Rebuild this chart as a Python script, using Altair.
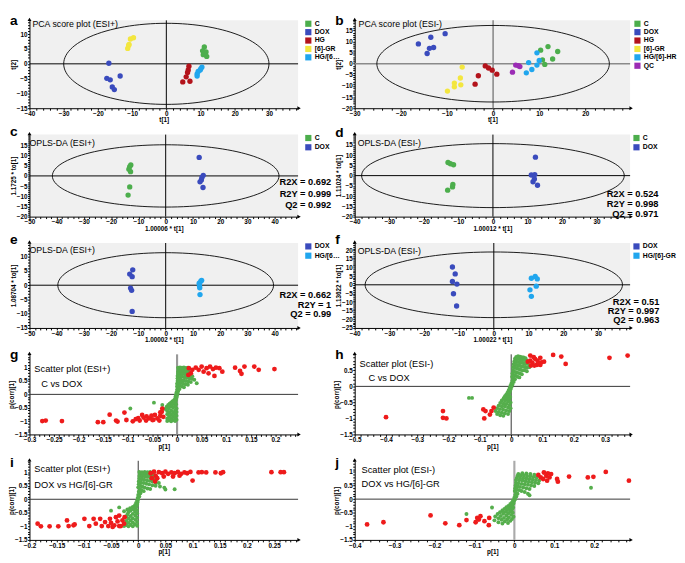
import altair as alt
import pandas as pd

FONT = "Liberation Sans"

# ---------------- colours ----------------
COL_C = "#4cae4c"
COL_DOX = "#3a4bbd"
COL_HG = "#b3131b"
COL_GR = "#f3e63f"
COL_HR = "#20a6ee"
COL_QC = "#9b2cb5"
S_GREEN = "#55ae4c"
S_RED = "#ee1b1b"
BG = "#f0f0f0"

# ---------------- panel a : PCA ESI+ ----------------
A_C = [(11.1, 5.7), (10.6, 4.4), (11.6, 4.0), (10.8, 3.1), (11.8, 2.5), (11.0, 3.4)]
A_DOX = [(-16.8, 0.2), (-17.4, -4.9), (-16.4, -5.4), (-13.5, -4.1), (-15.8, -7.8), (-15.2, -8.7)]
A_HG = [(6.6, -0.8), (6.4, -2.1), (6.2, -2.9), (5.8, -4.4), (4.8, -6.1), (6.9, -5.9)]
A_GR = [(-9.6, 8.8), (-10.5, 8.4), (-10.9, 6.6), (-11.3, 5.2), (-11.0, 6.2)]
A_HR = [(10.4, -1.1), (10.1, -1.6), (9.9, -2.1), (9.3, -2.6), (9.0, -3.4), (9.0, -4.1)]
A_XT = [-40, -30, -20, -10, 0, 10, 20, 30]
A_YT = [-15, -10, -5, 0, 5, 10]

# ---------------- panel b : PCA ESI- ----------------
B_C = [(10.3, 6.1), (11.9, 7.7), (14.0, 5.5), (12.9, 2.1), (10.7, 1.7), (11.2, -0.3)]
B_DOX = [(-16.2, 8.9), (-13.5, 11.9), (-10.4, 13.5), (-13.8, 6.9), (-12.9, 7.3), (-14.3, 4.6)]
B_HG = [(-1.7, -1.0), (-1.0, -1.9), (-0.2, -2.9), (0.8, -4.7), (-3.2, -5.4), (-3.9, -9.2)]
B_GR = [(-6.7, -1.5), (-7.1, -6.4), (-7.0, -9.5), (-8.4, -8.7), (-8.4, -10.4), (-9.9, -12.3)]
B_HR = [(9.5, 4.9), (7.7, 0.5), (10.0, 1.5), (9.5, -0.6), (8.4, -2.6), (7.2, -4.1)]
B_QC = [(4.2, -3.8), (4.9, -0.6), (5.5, -0.9), (5.8, -1.3)]
B_XT = [-30, -20, -10, 0, 10, 20]
B_YT = [-20, -15, -10, -5, 0, 5, 10, 15]

# ---------------- panel c : OPLS-DA ESI+ C vs DOX ----------------
C_C = [(-12.8, 5.4), (-13.2, 4.6), (-13.5, 3.3), (-12.9, 2.1), (-13.2, -5.4), (-13.8, -9.4)]
C_DOX = [(12.3, 9.1), (13.8, 0.3), (13.3, -0.8), (13.1, -2.0), (12.6, -2.9), (13.7, -5.7)]
C_STATS = ["R2X = 0.692", "R2Y = 0.999", "Q2 = 0.992"]
C_XT = [-50, -40, -30, -20, -10, 0, 10, 20, 30, 40]
C_YT = [-20, -15, -10, -5, 0, 5, 10, 15]

# ---------------- panel d : OPLS-DA ESI- C vs DOX ----------------
D_C = [(-13.0, 6.4), (-12.3, 5.8), (-11.4, 5.3), (-11.6, -4.3), (-11.7, -5.5), (-13.1, -7.1)]
D_DOX = [(12.3, 9.0), (11.1, 0.3), (12.1, 0.5), (12.0, -1.6), (11.6, -3.0), (12.9, -4.7)]
D_STATS = ["R2X = 0.524", "R2Y = 0.998", "Q2 = 0.971"]
D_XT = [-40, -30, -20, -10, 0, 10, 20, 30]
D_YT = [-20, -15, -10, -5, 0, 5, 10, 15]

# ---------------- panel e : OPLS-DA ESI+ DOX vs HG/[6]-GR ----------------
E_DOX = [(-12.1, 5.4), (-13.2, 3.9), (-12.3, 3.0), (-12.9, -1.0), (-12.5, -1.8), (-12.3, -9.2)]
E_HGR = [(12.9, 1.4), (12.3, 0.7), (12.4, -0.2), (12.5, -0.9), (12.6, -3.3), (13.2, 1.7)]
E_STATS = ["R2X = 0.662", "R2Y = 1", "Q2 = 0.99"]
E_XT = [-50, -40, -30, -20, -10, 0, 10, 20, 30, 40]
E_YT = [-15, -10, -5, 0, 5, 10]

# ---------------- panel f : OPLS-DA ESI- DOX vs HG/[6]-GR ----------------
F_DOX = [(-11.9, 10.3), (-11.1, 6.3), (-11.9, 1.9), (-10.6, 0.4), (-11.6, -5.2), (-10.7, -12.3)]
F_HGR = [(10.8, 3.8), (11.9, 4.8), (12.5, 3.4), (12.2, -0.8), (10.4, -2.9), (10.8, -6.7)]
F_STATS = ["R2X = 0.51", "R2Y = 0.997", "Q2 = 0.963"]
F_XT = [-40, -30, -20, -10, 0, 10, 20, 30]
F_YT = [-25, -20, -15, -10, -5, 0, 5, 10, 15, 20]

# ---------------- panel g : S-plot ESI+ C vs DOX ----------------
G_GREEN = [
    (0.002, 1.0), (0.006, 1.01), (0.010, 1.0), (0.014, 1.01), (0.018, 0.99), (0.022, 1.0),
    (0.003, 0.93), (0.008, 0.94), (0.013, 0.93), (0.018, 0.92), (0.023, 0.9),
    (0.002, 0.86), (0.007, 0.85), (0.012, 0.86), (0.017, 0.84), (0.022, 0.83), (0.027, 0.8),
    (0.002, 0.78), (0.006, 0.76), (0.011, 0.77), (0.016, 0.75), (0.021, 0.72), (0.026, 0.7), (0.031, 0.68),
    (0.001, 0.69), (0.005, 0.66), (0.010, 0.67), (0.015, 0.64), (0.020, 0.62), (0.025, 0.6), (0.030, 0.58), (0.035, 0.55),
    (0.001, 0.6), (0.004, 0.56), (0.008, 0.55), (0.013, 0.52), (0.018, 0.5), (0.023, 0.48), (0.028, 0.46), (0.040, 0.42),
    (0.001, 0.5), (0.004, 0.46), (0.008, 0.44), (0.012, 0.41), (0.017, 0.38), (0.022, 0.36),
    (0.0, 0.4), (0.003, 0.36), (0.006, 0.33), (0.010, 0.3), (0.014, 0.27),
    (0.0, 0.3), (0.002, 0.24), (0.005, 0.2), (0.0, 0.18), (0.002, 0.12), (-0.001, 0.08), (0.001, 0.04),
    (-0.002, 0.0), (0.0, -0.04), (-0.003, -0.08), (-0.001, -0.12), (-0.004, -0.16),
    (-0.002, -0.2), (-0.006, -0.22), (-0.009, -0.26), (-0.003, -0.28), (-0.012, -0.3), (-0.006, -0.33),
    (-0.015, -0.35), (-0.002, -0.37), (-0.010, -0.39), (-0.018, -0.4),
    (-0.004, -0.44), (-0.013, -0.45), (-0.021, -0.46), (-0.008, -0.5), (-0.017, -0.52), (-0.001, -0.53), (-0.024, -0.55),
    (-0.004, -0.6), (-0.012, -0.6), (-0.020, -0.62), (-0.001, -0.66), (-0.008, -0.68), (-0.016, -0.68),
    (-0.004, -0.74), (-0.012, -0.75), (-0.020, -0.74), (-0.001, -0.8), (-0.008, -0.82), (-0.016, -0.82),
    (-0.004, -0.88), (-0.012, -0.89), (-0.020, -0.9), (-0.001, -0.95), (-0.008, -0.96), (-0.016, -0.97),
    (-0.004, -1.0), (-0.012, -1.01), (-0.020, -1.0),
    (-0.047, -0.31), (-0.095, -0.53), (-0.030, -0.4),
]
G_RED = [
    (0.024, 0.98), (0.023, 0.73), (0.028, 0.79), (0.031, 0.92), (0.038, 1.0), (0.044, 0.92),
    (0.050, 1.04), (0.054, 0.85), (0.060, 0.98), (0.067, 1.04), (0.064, 0.79), (0.073, 0.95),
    (0.076, 0.69), (0.079, 1.0), (0.086, 0.98), (0.092, 0.85), (0.118, 1.0), (0.128, 0.88),
    (0.131, 0.77), (0.137, 1.04), (0.157, 1.04), (0.166, 0.92), (0.198, 0.95),
    (-0.274, -1.0), (-0.267, -0.98), (-0.234, -1.0), (-0.161, -1.04), (-0.150, -1.04),
    (-0.137, -0.76), (-0.124, -0.98), (-0.121, -1.02), (-0.107, -0.68), (-0.103, -0.96),
    (-0.090, -1.01), (-0.084, -0.93), (-0.079, -0.89), (-0.071, -0.77), (-0.068, -0.87),
    (-0.062, -0.82), (-0.057, -0.9), (-0.052, -0.8), (-0.048, -0.95), (-0.045, -0.77),
    (-0.040, -0.9), (-0.036, -0.98), (-0.034, -0.8), (-0.031, -0.65), (-0.028, -0.84),
    (-0.030, -0.53), (-0.034, -0.67), (-0.076, -0.98), (-0.063, -0.98), (-0.050, -0.96),
]
G_XT = [-0.3, -0.25, -0.2, -0.15, -0.1, -0.05, 0, 0.05, 0.1, 0.15, 0.2]
G_YT = [-1.5, -1, -0.5, 0, 0.5, 1]

# ---------------- panel h : S-plot ESI- C vs DOX ----------------
H_GREEN = [
    (0.016, 0.92), (0.022, 0.94), (0.028, 0.93), (0.034, 0.91), (0.040, 0.9), (0.046, 0.88),
    (0.012, 0.86), (0.018, 0.85), (0.024, 0.86), (0.030, 0.84), (0.036, 0.83), (0.042, 0.82), (0.050, 0.8),
    (0.010, 0.78), (0.016, 0.77), (0.022, 0.76), (0.028, 0.75), (0.034, 0.74), (0.040, 0.72), (0.046, 0.7), (0.054, 0.7),
    (0.008, 0.69), (0.014, 0.68), (0.020, 0.66), (0.026, 0.65), (0.032, 0.63), (0.038, 0.62), (0.044, 0.6), (0.050, 0.58), (0.058, 0.6),
    (0.006, 0.6), (0.012, 0.58), (0.018, 0.56), (0.024, 0.54), (0.030, 0.52), (0.036, 0.5), (0.042, 0.5), (0.050, 0.47),
    (0.006, 0.5), (0.010, 0.46), (0.016, 0.44), (0.022, 0.42), (0.028, 0.4), (0.034, 0.38),
    (0.004, 0.4), (0.008, 0.36), (0.014, 0.33), (0.020, 0.3), (0.026, 0.28),
    (0.003, 0.3), (0.007, 0.25), (0.012, 0.22), (0.004, 0.18), (0.008, 0.14), (0.001, 0.1), (0.004, 0.06),
    (-0.002, 0.02), (0.001, -0.02), (-0.005, -0.05), (-0.002, -0.09), (-0.008, -0.12), (-0.004, -0.16),
    (-0.012, -0.2), (-0.006, -0.22), (-0.016, -0.26), (-0.008, -0.28), (-0.020, -0.31), (-0.012, -0.34),
    (-0.003, -0.33), (-0.024, -0.37), (-0.016, -0.4), (-0.006, -0.41), (-0.030, -0.44), (-0.020, -0.46),
    (-0.010, -0.47), (-0.002, -0.5), (-0.035, -0.52), (-0.025, -0.54), (-0.015, -0.55), (-0.005, -0.58),
    (-0.040, -0.6), (-0.030, -0.62), (-0.020, -0.63), (-0.010, -0.66), (-0.002, -0.68),
    (-0.045, -0.68), (-0.036, -0.71), (-0.026, -0.72), (-0.016, -0.75), (-0.006, -0.77),
    (-0.050, -0.77), (-0.040, -0.8), (-0.030, -0.82), (-0.020, -0.84), (-0.010, -0.86),
    (-0.045, -0.86), (-0.035, -0.9), (-0.025, -0.92), (-0.135, -0.36), (-0.125, -0.36),
]
H_RED = [
    (0.061, 0.96), (0.061, 0.8), (0.068, 0.73), (0.076, 0.86), (0.084, 0.8), (0.093, 0.89),
    (0.097, 0.75), (0.105, 0.77), (0.082, 0.67), (0.093, 0.67), (0.063, 0.65), (0.074, 0.65),
    (0.134, 0.98), (0.160, 0.93), (0.174, 0.7), (0.314, 0.89), (0.372, 0.96), (0.053, 0.77),
    (0.072, 0.91), (0.086, 0.73),
    (-0.400, -0.96), (-0.218, -0.77), (-0.218, -0.98), (-0.207, -1.0), (-0.089, -0.72),
    (-0.082, -0.77), (-0.086, -1.0), (-0.068, -0.88), (-0.063, -0.77), (-0.056, -0.66),
]
H_XT = [-0.5, -0.4, -0.3, -0.2, -0.1, 0, 0.1, 0.2, 0.3]
H_YT = [-1.5, -1, -0.5, 0, 0.5]

# ---------------- panel i : S-plot ESI+ DOX vs HG/[6]-GR ----------------
I_GREEN = [
    (0.002, 1.01), (0.007, 1.0), (0.012, 1.01), (0.017, 1.0), (0.022, 1.01),
    (0.003, 0.94), (0.008, 0.93), (0.013, 0.94), (0.018, 0.92), (0.023, 0.9), (0.028, 0.9),
    (0.002, 0.86), (0.007, 0.85), (0.012, 0.84), (0.017, 0.83), (0.022, 0.8), (0.028, 0.77), (0.034, 0.74),
    (0.002, 0.77), (0.006, 0.74), (0.011, 0.72), (0.016, 0.7), (0.021, 0.68), (0.026, 0.66), (0.032, 0.62), (0.038, 0.6),
    (0.001, 0.66), (0.005, 0.62), (0.010, 0.6), (0.015, 0.57), (0.020, 0.55), (0.026, 0.52), (0.032, 0.5), (0.040, 0.47), (0.048, 0.43),
    (0.001, 0.55), (0.004, 0.5), (0.008, 0.46), (0.012, 0.43), (0.017, 0.4), (0.022, 0.38), (0.050, 0.36), (0.067, 0.37),
    (0.0, 0.44), (0.003, 0.38), (0.006, 0.33), (0.010, 0.3), (0.001, 0.28), (0.004, 0.22), (0.0, 0.16),
    (0.002, 0.1), (-0.001, 0.05), (0.0, 0.0), (-0.002, -0.05), (-0.001, -0.1), (-0.004, -0.14), (-0.002, -0.19),
    (-0.006, -0.22), (-0.003, -0.26), (-0.010, -0.28), (-0.005, -0.32), (-0.015, -0.33), (-0.009, -0.37),
    (-0.020, -0.38), (-0.002, -0.4), (-0.014, -0.42), (-0.026, -0.44), (-0.006, -0.46), (-0.018, -0.48),
    (-0.035, -0.3), (-0.050, -0.42),
    (-0.002, -0.52), (-0.010, -0.54), (-0.020, -0.56), (-0.005, -0.6), (-0.014, -0.62), (-0.022, -0.63),
    (-0.002, -0.68), (-0.010, -0.7), (-0.018, -0.71), (-0.005, -0.76), (-0.014, -0.78), (-0.022, -0.8),
    (-0.002, -0.84), (-0.010, -0.86), (-0.018, -0.87), (-0.006, -0.92), (-0.014, -0.94), (-0.022, -0.95),
    (-0.002, -0.98), (-0.010, -1.0), (-0.018, -1.0), (-0.026, -0.99),
]
I_RED = [
    (0.023, 0.96), (0.025, 0.78), (0.029, 1.02), (0.032, 0.87), (0.038, 1.0), (0.044, 0.96),
    (0.050, 1.02), (0.055, 0.94), (0.061, 0.99), (0.067, 0.96), (0.073, 1.01), (0.079, 0.94),
    (0.085, 0.99), (0.090, 0.96), (0.096, 1.01), (0.100, 0.69), (0.111, 0.99), (0.117, 1.0),
    (0.125, 0.99), (0.142, 0.99), (0.152, 0.96), (0.156, 1.0), (0.245, 1.0), (0.262, 1.0),
    (0.268, 1.0), (0.035, 0.78), (0.047, 0.84), (0.064, 0.84), (0.076, 0.87), (0.031, 0.66),
    (-0.185, -0.9), (-0.179, -1.0), (-0.163, -1.0), (-0.147, -1.0), (-0.131, -0.78),
    (-0.128, -0.99), (-0.119, -0.96), (-0.117, -0.93), (-0.099, -0.72), (-0.090, -0.99),
    (-0.082, -0.72), (-0.078, -0.9), (-0.070, -0.72), (-0.067, -0.99), (-0.061, -0.84),
    (-0.055, -0.99), (-0.052, -0.72), (-0.050, -0.87), (-0.044, -0.96), (-0.041, -0.66),
    (-0.038, -0.82), (-0.035, -0.6), (-0.032, -0.99), (-0.029, -0.78), (-0.026, -0.9),
    (-0.025, -0.66), (-0.035, -0.99), (-0.047, -1.02),
]
I_XT = [-0.2, -0.15, -0.1, -0.05, 0, 0.05, 0.1, 0.15, 0.2, 0.25]
I_YT = [-1.5, -1, -0.5, 0, 0.5, 1]

# ---------------- panel j : S-plot ESI- DOX vs HG/[6]-GR ----------------
J_GREEN = [
    (0.010, 0.93), (0.020, 0.95), (0.030, 0.94), (0.040, 0.93), (0.050, 0.9),
    (0.008, 0.86), (0.016, 0.87), (0.024, 0.86), (0.032, 0.85), (0.040, 0.84), (0.048, 0.82), (0.056, 0.8),
    (0.006, 0.78), (0.014, 0.78), (0.022, 0.77), (0.030, 0.76), (0.038, 0.74), (0.046, 0.72), (0.054, 0.7), (0.062, 0.68),
    (0.004, 0.7), (0.012, 0.69), (0.020, 0.68), (0.028, 0.66), (0.036, 0.64), (0.044, 0.62), (0.052, 0.6), (0.060, 0.58),
    (0.004, 0.6), (0.010, 0.58), (0.018, 0.56), (0.026, 0.55), (0.034, 0.53), (0.042, 0.5), (0.050, 0.48),
    (0.003, 0.5), (0.008, 0.47), (0.014, 0.45), (0.022, 0.43), (0.030, 0.4), (0.038, 0.37),
    (0.002, 0.4), (0.006, 0.36), (0.012, 0.33), (0.018, 0.3), (0.026, 0.26), (0.034, 0.2), (0.038, 0.14),
    (0.001, 0.3), (0.004, 0.25), (0.008, 0.2), (0.002, 0.15), (0.005, 0.1), (0.0, 0.05), (0.002, 0.0),
    (-0.003, -0.04), (-0.001, -0.08), (-0.006, -0.12), (-0.002, -0.16),
    (-0.010, -0.18), (-0.005, -0.22), (-0.015, -0.25), (-0.008, -0.28), (-0.020, -0.3), (-0.003, -0.31),
    (-0.012, -0.34), (-0.025, -0.36), (-0.006, -0.38), (-0.018, -0.4), (-0.030, -0.42),
    (-0.010, -0.45), (-0.022, -0.47), (-0.036, -0.48), (-0.004, -0.5), (-0.015, -0.52), (-0.028, -0.54),
    (-0.042, -0.55), (-0.008, -0.58), (-0.020, -0.6), (-0.034, -0.62), (-0.048, -0.64),
    (-0.002, -0.65), (-0.014, -0.67), (-0.026, -0.69), (-0.040, -0.7), (-0.006, -0.73), (-0.018, -0.75),
    (-0.032, -0.76), (-0.050, -0.78), (-0.010, -0.8), (-0.024, -0.82), (-0.040, -0.85), (-0.016, -0.88),
    (-0.030, -0.9), (-0.056, -0.31), (-0.120, -0.55), (0.192, 0.42),
]
J_RED = [
    (0.074, 0.98), (0.084, 0.95), (0.092, 0.92), (0.066, 0.8), (0.072, 0.74), (0.082, 0.68),
    (0.088, 0.8), (0.107, 0.74), (0.109, 0.64), (0.137, 0.83), (0.184, 0.8), (0.198, 0.82),
    (0.229, 1.0), (0.287, 0.68), (0.060, 0.89), (0.080, 0.86),
    (-0.369, -0.93), (-0.328, -0.85), (-0.210, -0.6), (-0.173, -0.89), (-0.138, -0.96),
    (-0.120, -0.77), (-0.097, -0.85), (-0.093, -0.69), (-0.089, -0.75), (-0.075, -0.81),
    (-0.064, -0.96), (-0.063, -0.69), (-0.085, -0.63),
]
J_XT = [-0.4, -0.3, -0.2, -0.1, 0, 0.1, 0.2]
J_YT = [-1.5, -1, -0.5, 0, 0.5, 1]

# ---------------- layout constants ----------------
WL, WR = 275, 282
ROW_H = [90, 84, 87, 82, 81]


def minor_ticks(major, sub, dom):
    """Tick positions between labelled ticks (axis styling only)."""
    step = (major[1] - major[0]) / sub
    start = major[0]
    vals = []
    k = 0
    while start + k * step <= dom[1] + 1e-9:
        vals.append(round(start + k * step, 6))
        k += 1
    return vals


def to_df(groups):
    rows = []
    for name, pts in groups:
        for x, y in pts:
            rows.append({"x": x, "y": y, "g": name})
    return pd.DataFrame(rows)


def text_layer(text, x, y, size, weight="normal", align="left", line_height=None):
    props = dict(font=FONT, fontSize=size, fontWeight=weight, align=align,
                 baseline="alphabetic", color="black")
    if line_height is not None:
        props.update(lineBreak="\n", lineHeight=line_height)
    return alt.Chart(pd.DataFrame({"t": [text]})).mark_text(**props).encode(
        text="t:N", x=alt.value(x), y=alt.value(y))


def arrow_layers(W, H):
    one = pd.DataFrame({"k": [0]})
    ax = alt.Chart(one).mark_point(shape="triangle-right", filled=True, size=16,
                                   color="black", opacity=1).encode(
        x=alt.value(W + 1), y=alt.value(H))
    ay = alt.Chart(one).mark_point(shape="triangle-up", filled=True, size=16,
                                   color="black", opacity=1).encode(
        x=alt.value(0), y=alt.value(-1))
    return [ax, ay]


def axes(xdom, ydom, xticks, yticks, xtitle, ytitle, xsub, ysub):
    xs = alt.Scale(domain=xdom, nice=False, zero=False)
    ys = alt.Scale(domain=ydom, nice=False, zero=False)
    xv = minor_ticks(xticks, xsub, xdom)
    yv = minor_ticks(yticks, ysub, ydom)
    xl = "indexof(" + str([float(v) for v in xticks]) + ", datum.value) >= 0 ? datum.label : ''"
    yl = "indexof(" + str([float(v) for v in yticks]) + ", datum.value) >= 0 ? datum.label : ''"
    xa = alt.Axis(title=xtitle, values=xv, format="~f", labelExpr=xl,
                  labelOverlap=False, labelFlush=False)
    ya = alt.Axis(title=ytitle, values=yv, format="~f", labelExpr=yl,
                  labelOverlap=False, labelFlush=False)
    return xs, ys, xa, ya


def zero_lines(xs, ys, xa, ya, vcol, vw, hcol, hw):
    zero = pd.DataFrame({"z": [0]})
    h = alt.Chart(zero).mark_rule(color=hcol, strokeWidth=hw).encode(
        y=alt.Y("z:Q", scale=ys, axis=ya))
    v = alt.Chart(zero).mark_rule(color=vcol, strokeWidth=vw).encode(
        x=alt.X("z:Q", scale=xs, axis=xa))
    return [h, v]


def pca_panel(letter, heading, groups, colors, xdom, ydom, xticks, yticks, xtitle, ytitle,
              ell, W, H, head_xy, letter_y, zcol="black", zw=1.0, stats=None,
              leg_offset=6, leg_pad=1.0, leg_limit=28):
    xs, ys, xa, ya = axes(xdom, ydom, xticks, yticks, xtitle, ytitle, 5, 5)
    df = to_df(groups)
    names = [g[0] for g in groups]
    ellipse = alt.Chart(alt.sequence(0, 361, 3, as_="t")).transform_calculate(
        ex=f"{ell[0]}*cos(datum.t*PI/180)", ey=f"{ell[1]}*sin(datum.t*PI/180)"
    ).mark_line(color="black", strokeWidth=0.9, clip=True).encode(
        x=alt.X("ex:Q", scale=xs, axis=xa), y=alt.Y("ey:Q", scale=ys, axis=ya), order="t:Q")
    pts = alt.Chart(df).mark_circle(size=30, opacity=1).encode(
        x=alt.X("x:Q", scale=xs, axis=xa),
        y=alt.Y("y:Q", scale=ys, axis=ya),
        color=alt.Color("g:N", scale=alt.Scale(domain=names, range=colors),
                        legend=alt.Legend(title=None, orient="right", offset=leg_offset,
                                          rowPadding=leg_pad, labelLimit=leg_limit)),
    )
    layers = zero_lines(xs, ys, xa, ya, zcol, zw, zcol, zw) + [ellipse, pts]
    layers += arrow_layers(W, H)
    layers.append(text_layer(heading, head_xy[0], head_xy[1], 9))
    layers.append(text_layer(letter, -20, letter_y, 14, "bold"))
    if stats is not None:
        txt, sx, sy, lh = stats
        layers.append(text_layer("\n".join(txt), W + sx, sy, 9.5, "bold", "right", lh))
    return alt.layer(*layers).properties(
        width=W, height=H, view=alt.ViewBackground(fill=BG, stroke=None))


def s_panel(letter, lines, green, red, xdom, ydom, xticks, yticks, W, H, letter_y,
            line_pos, vcol, vw):
    xs, ys, xa, ya = axes(xdom, ydom, xticks, yticks, "p[1]", "p(corr)[1]", 5, 5)
    gdf = pd.DataFrame(green, columns=["x", "y"])
    rdf = pd.DataFrame(red, columns=["x", "y"])
    gl = alt.Chart(gdf).mark_circle(size=16, opacity=1, color=S_GREEN).encode(
        x=alt.X("x:Q", scale=xs, axis=xa), y=alt.Y("y:Q", scale=ys, axis=ya))
    rl = alt.Chart(rdf).mark_circle(size=24, opacity=1, color=S_RED).encode(
        x=alt.X("x:Q", scale=xs, axis=xa), y=alt.Y("y:Q", scale=ys, axis=ya))
    layers = zero_lines(xs, ys, xa, ya, vcol, vw, "#333333", 1.0) + [gl, rl]
    layers += arrow_layers(W, H)
    for txt, (lx, ly) in zip(lines, line_pos):
        layers.append(text_layer(txt, lx, ly, 9.5))
    layers.append(text_layer(letter, -20, letter_y, 14, "bold"))
    return alt.layer(*layers).properties(
        width=W, height=H, view=alt.ViewBackground(fill="white", stroke=None))


pa = pca_panel("a", "PCA score plot (ESI+)",
               [("C", A_C), ("DOX", A_DOX), ("HG", A_HG), ("[6]-GR", A_GR), ("HG/[6]-HR", A_HR)],
               [COL_C, COL_DOX, COL_HG, COL_GR, COL_HR],
               [-40, 38.5], [-15, 14.7], A_XT, A_YT, "t[1]", "t[2]", (30, 13.7),
               WL, ROW_H[0], (3, 7), 5, leg_offset=7, leg_pad=0.6)
pb = pca_panel("b", "PCA score plot (ESI-)",
               [("C", B_C), ("DOX", B_DOX), ("HG", B_HG), ("[6]-GR", B_GR), ("HG/[6]-HR", B_HR), ("QC", B_QC)],
               [COL_C, COL_DOX, COL_HG, COL_GR, COL_HR, COL_QC],
               [-30, 29.7], [-20, 19.5], B_XT, B_YT, "t[1]", "t[2]", (25.2, 17.2),
               WR, ROW_H[0], (4, 7), 5, zcol="#8a8a8a", zw=1.6, leg_offset=4, leg_pad=0.6,
               leg_limit=60)
pc = pca_panel("c", "OPLS-DA (ESI+)", [("C", C_C), ("DOX", C_DOX)], [COL_C, COL_DOX],
               [-50, 48.6], [-20, 20.3], C_XT, C_YT, "1.00006 * t[1]", "1.1725 * to[1]",
               (41.6, 15.3), WL, ROW_H[1], (0, 12), 1,
               stats=(C_STATS, 34, 52, 11.5), leg_offset=7, leg_pad=1.5)
pd_ = pca_panel("d", "OPLS-DA (ESI-)", [("C", D_C), ("DOX", D_DOX)], [COL_C, COL_DOX],
                [-40, 39.7], [-20, 20], D_XT, D_YT, "1.00012 * t[1]", "1.11024 * to[1]",
                (38, 15.6), WR, ROW_H[1], (3, 12), 2,
                stats=(D_STATS, 29, 64, 10), leg_offset=3, leg_pad=1.5, leg_limit=60)
pe = pca_panel("e", "OPLS-DA (ESI+)", [("DOX", E_DOX), ("HG/[6]-GR", E_HGR)], [COL_DOX, COL_HR],
               [-50, 48.6], [-15, 14.8], E_XT, E_YT, "1.00002 * t[1]", "1.08704 * to[1]",
               (39.6, 11.4), WL, ROW_H[2], (0, 10), 1,
               stats=(E_STATS, 34, 56.5, 9.8), leg_offset=7, leg_pad=1.5)
pf = pca_panel("f", "OPLS-DA (ESI-)", [("DOX", F_DOX), ("HG/[6]-GR", F_HGR)], [COL_DOX, COL_HR],
               [-40, 39.2], [-25, 24.2], F_XT, F_YT, "1.00022 * t[1]", "1.13622 * to[1]",
               (37, 19), WR, ROW_H[2], (3, 11), 1,
               stats=(F_STATS, 30, 63, 9.5), leg_offset=3, leg_pad=1.5, leg_limit=60)
pg = s_panel("g", ["Scatter plot (ESI+)", "C vs DOX"], G_GREEN, G_RED,
             [-0.3, 0.246], [-1.5, 1.5], G_XT, G_YT, WL, ROW_H[3], 5,
             [(5, 18), (12, 33)], "#999999", 2.2)
ph = s_panel("h", ["Scatter plot (ESI-)", "C vs DOX"], H_GREEN, H_RED,
             [-0.5, 0.38], [-1.5, 1.0], H_XT, H_YT, WR, ROW_H[3], 5,
             [(5, 12.5), (14, 27.5)], "#333333", 1.0)
pi = s_panel("i", ["Scatter plot (ESI+)", "DOX vs HG/[6]-GR"], I_GREEN, I_RED,
             [-0.2, 0.294], [-1.5, 1.42], I_XT, I_YT, WL, ROW_H[4], 6,
             [(5, 11), (5, 28)], "#333333", 1.0)
pj = s_panel("j", ["Scatter plot (ESI-)", "DOX vs HG/[6]-GR"], J_GREEN, J_RED,
             [-0.4, 0.29], [-1.5, 1.41], J_XT, J_YT, WR, ROW_H[4], 6,
             [(7, 13), (7, 27)], "#aaaaaa", 2.2)

chart = alt.concat(
    pa, pb, pc, pd_, pe, pf, pg, ph, pi, pj,
    columns=2, bounds="flush", spacing={"row": 27, "column": 58}, padding=0,
).resolve_scale(
    color="independent", x="independent", y="independent"
).configure_axis(
    labelFont=FONT, titleFont=FONT, labelFontSize=6.5, titleFontSize=6.5,
    labelFontWeight="bold", titleFontWeight="bold", labelColor="black", titleColor="black",
    domainColor="black", tickColor="black", tickSize=2, labelPadding=0.5, titlePadding=0,
    grid=False, domainWidth=1,
).configure_legend(
    symbolType="square", symbolSize=40, symbolStrokeWidth=0, labelFont=FONT,
    labelFontSize=7, labelFontWeight="bold", labelColor="black", padding=0,
    labelOffset=3,
).configure_view(stroke=None)

chart.save("out.html", embed_options={"renderer": "svg", "actions": False})
